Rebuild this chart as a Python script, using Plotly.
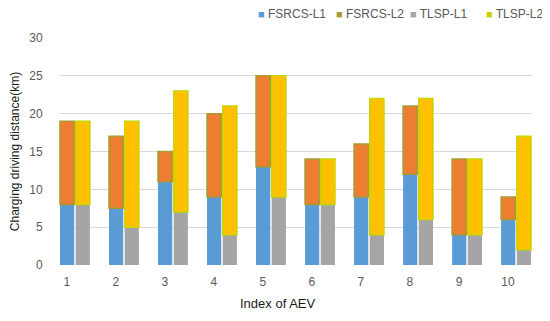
import plotly.graph_objects as go

categories = [1, 2, 3, 4, 5, 6, 7, 8, 9, 10]
fsrcs_l1 = [8, 7.5, 11, 9, 13, 8, 9, 12, 4, 6]
fsrcs_l2 = [11, 9.5, 4, 11, 12, 6, 7, 9, 10, 3]
tlsp_l1 = [8, 5, 7, 4, 9, 8, 4, 6, 4, 2]
tlsp_l2 = [11, 14, 16, 17, 16, 6, 18, 16, 10, 15]
y_ticks = [0, 5, 10, 15, 20, 25, 30]
series_names = ["FSRCS-L1", "FSRCS-L2", "TLSP-L1", "TLSP-L2"]
x_title = "Index of AEV"
y_title = "Charging driving distance(km)"

BLUE = "#5B9BD5"
ORANGE = "#ED7D31"
OLIVE = "#A89B33"
GRAY = "#A5A5A5"
YELLOW = "#FFC000"
YGREEN = "#C9D400"
legend_colors = [BLUE, OLIVE, GRAY, YGREEN]

W = 0.29
OFF_F = -0.14
OFF_T = 0.18

# the html page body has an 8px margin; size the figure so the plot lands where the reference has it
PAGE = 8
FW, FH = 550 - PAGE, 321 - PAGE
ML, MR, MT, MB = 59 - PAGE, 18, 38 - PAGE, 56
PW = FW - ML - MR
PH = FH - MT - MB

fig = go.Figure()
fig.add_bar(x=categories, y=fsrcs_l1, offset=OFF_F, width=W,
            marker=dict(color=BLUE, line=dict(width=0)), name=series_names[0])
fig.add_bar(x=categories, y=fsrcs_l2, base=fsrcs_l1, offset=OFF_F, width=W,
            marker=dict(color=ORANGE, line=dict(width=1.5, color=OLIVE)), name=series_names[1])
fig.add_bar(x=categories, y=tlsp_l1, offset=OFF_T, width=W,
            marker=dict(color=GRAY, line=dict(width=0)), name=series_names[2])
fig.add_bar(x=categories, y=tlsp_l2, base=tlsp_l1, offset=OFF_T, width=W,
            marker=dict(color=YELLOW, line=dict(width=1.5, color=YGREEN)), name=series_names[3])

# legend drawn as text entries with coloured squares (page pixel positions)
legend_px = [256, 334, 408, 484]
annotations = []
for name, col, px in zip(series_names, legend_colors, legend_px):
    annotations.append(dict(
        xref="paper", yref="paper", x=(px - PAGE - ML) / PW, y=1 + (38 - 14) / PH,
        xanchor="left", yanchor="middle", showarrow=False,
        text=f"<span style='color:{col};font-size:11px'>■</span> {name}",
        font=dict(size=12, color="#595959")))

# x axis title, placed as in the reference (slightly left of the plot centre)
annotations.append(dict(
    xref="paper", yref="paper", x=(277 - 59) / PW, y=-(303 - 265) / PH,
    xanchor="center", yanchor="middle", showarrow=False,
    text=x_title, font=dict(size=13, color="#1a1a1a")))

fig.update_layout(
    width=FW, height=FH,
    margin=dict(l=ML, r=MR, t=MT, b=MB, autoexpand=False),
    barmode="overlay", showlegend=False,
    plot_bgcolor="white", paper_bgcolor="white",
    font=dict(family="Liberation Sans, Arial, sans-serif", size=12, color="#595959"),
    annotations=annotations,
    xaxis=dict(range=[0.84, 10.49], tickvals=categories, ticktext=[str(c) for c in categories],
               showgrid=False, zeroline=False, showline=False,
               ticks="outside", ticklen=6, tickcolor="rgba(0,0,0,0)",
               tickfont=dict(size=12, color="#595959")),
    yaxis=dict(range=[0, 30], tickvals=y_ticks, showgrid=True, gridcolor="#D9D9D9", gridwidth=1,
               zeroline=False, showline=False,
               ticks="outside", ticklen=13, tickcolor="rgba(0,0,0,0)",
               tickfont=dict(size=12, color="#595959"),
               title=dict(text=y_title, font=dict(size=12, color="#1a1a1a"), standoff=7)),
)

fig.write_html("out.html")
